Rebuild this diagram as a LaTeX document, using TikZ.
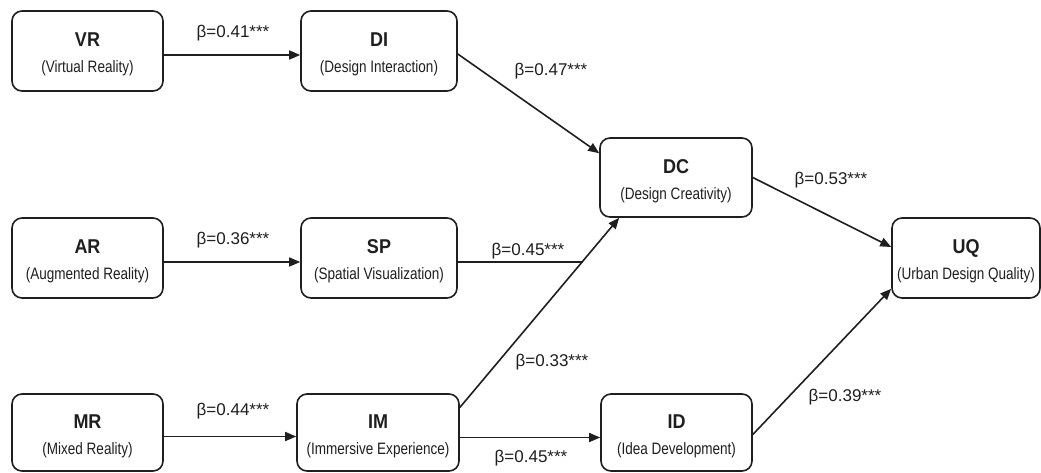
\documentclass[tikz,border=0pt]{standalone}
\usepackage{fontspec}
\setmainfont{Liberation Sans}
\newfontfamily\subfont[FakeStretch=0.82]{Liberation Sans}
\newfontfamily\ttlfont[FakeStretch=0.9]{Liberation Sans}
\usetikzlibrary{arrows.meta}
\colorlet{ink}{black!88}
\tikzset{
  var/.style={draw=ink,line width=1.6pt,rounded corners=10pt,align=center,inner sep=0pt,
    minimum height=80pt,text=ink,font=\subfont\fontsize{16.5}{26}\selectfont},
  beta/.style={text=ink,inner sep=1pt,font=\fontsize{17}{20}\selectfont},
  link/.style={draw=ink,line width=1.6pt},
  arr/.style={link,-{Triangle[length=11pt,width=9pt]}}
}
\newcommand{\varlabel}[2]{\rule{0pt}{20.6pt}{\ttlfont\bfseries\fontsize{20}{26}\selectfont #1}\\(#2)}

\begin{document}
\begin{tikzpicture}[x=1pt,y=-1pt]
  \useasboundingbox[fill=white] (0,0) rectangle (1041,472);
  \node[var,minimum width=151pt] (vr) at (87.5,51) {\varlabel{VR}{Virtual Reality}};
  \node[var,minimum width=156pt] (di) at (379,51) {\varlabel{DI}{Design Interaction}};
  \node[var,minimum width=151pt] (ar) at (87.5,258) {\varlabel{AR}{Augmented Reality}};
  \node[var,minimum width=156pt] (sp) at (379,258) {\varlabel{SP}{Spatial Visualization}};
  \node[var,minimum width=151pt,minimum height=77pt] (mr) at (87.5,432.5) {\varlabel{MR}{Mixed Reality}};
  \node[var,minimum width=162pt,minimum height=77pt] (im) at (378,432.5) {\varlabel{IM}{Immersive Experience}};
  \node[var,minimum width=151pt,minimum height=77pt] (idv) at (676.5,432.5) {\varlabel{ID}{Idea Development}};
  \node[var,minimum width=152pt,minimum height=79pt] (dc) at (676,177.5) {\varlabel{DC}{Design Creativity}};
  \node[var,minimum width=148pt] (uq) at (966,258) {\varlabel{UQ}{Urban Design Quality}};
  \coordinate (spj) at (583,262);

  \draw[arr] ([yshift=-4pt]vr.east) -- ([yshift=-4pt]di.west);
  \draw[arr] ([yshift=-4pt]ar.east) -- ([yshift=-4pt]sp.west);
  \draw[arr] ([yshift=-4pt]mr.east) -- ([yshift=-4pt]im.west);
  \draw[arr] ([yshift=-5pt]im.east) -- ([yshift=-5pt]idv.west);
  \draw[link] ([yshift=-4pt]sp.east) -- (spj);
  \draw[arr] ([yshift=25pt]im.east) -- ([xshift=20pt]dc.south west);
  \draw[arr] ([yshift=-3pt]di.east) -- ([yshift=-16pt]dc.north west);
  \draw[arr] (dc.east) -- ([yshift=11pt]uq.west);
  \draw[arr] ([yshift=-2pt]idv.east) -- ([yshift=10pt]uq.south west);

  \node[beta] (b41) at (233,33) {β=0.41***};
  \node[beta] (b36) at (233,240) {β=0.36***};
  \node[beta] (b44) at (233,411) {β=0.44***};
  \node[beta] (b47) at (551,71) {β=0.47***};
  \node[beta] (b45a) at (528,251) {β=0.45***};
  \node[beta] (b33) at (552,362) {β=0.33***};
  \node[beta] (b45b) at (531,458) {β=0.45***};
  \node[beta] (b53) at (831,180) {β=0.53***};
  \node[beta] (b39) at (845,397) {β=0.39***};
\end{tikzpicture}
\end{document}
